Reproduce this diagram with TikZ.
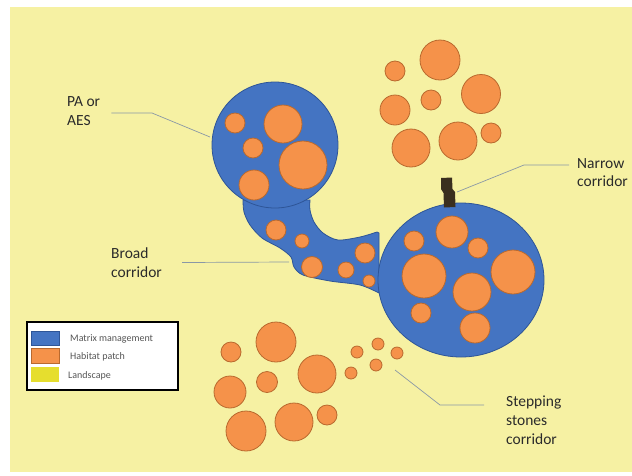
\documentclass[tikz,border=0pt]{standalone}
\usepackage{fontspec}
\setmainfont{Carlito}
\definecolor{bgyellow}{HTML}{F6F1A3}
\definecolor{matblue}{HTML}{4474C2}
\definecolor{matedge}{HTML}{2E5597}
\definecolor{patchor}{HTML}{F5924A}
\definecolor{patchedge}{HTML}{B9692E}
\definecolor{narrowc}{HTML}{3A2F1F}
\definecolor{leadc}{HTML}{8A98A6}
\definecolor{txtc}{HTML}{2B2B2B}
\definecolor{legtxt}{HTML}{555555}
\definecolor{swyellow}{HTML}{E6DE2E}
\begin{document}
\begin{tikzpicture}[x=1pt,y=-1pt,
  mat/.style={fill=matblue,draw=matedge,line width=0.8pt},
  hpatch/.style={fill=patchor,draw=patchedge,line width=0.8pt},
  lead/.style={draw=leadc,line width=0.7pt},
  lbl/.style={font=\fontsize{15.5}{18.8}\selectfont,text=txtc,align=left,inner sep=1pt,anchor=west},
  legl/.style={font=\fontsize{10}{12}\selectfont,text=legtxt,inner sep=0pt,anchor=west}]
\useasboundingbox (0,0) rectangle (632,475);
\fill[white] (0,0) rectangle (632,475);
\fill[bgyellow] (10,7) rectangle (632,472);

% broad corridor
\draw[mat] plot[smooth,tension=0.5] coordinates {(243,200) (244,212) (250,225) (262,238) (280,248) (291,257) (294,267) (303,275) (330,281) (360,285) (379,293)}
  -- (379,233)
  -- plot[smooth,tension=0.5] coordinates {(377,232) (360,237) (338,240) (323,233) (314,222) (310,210) (310,200)} -- cycle;

% protected areas
\draw[mat] (275,145) circle[radius=63pt];
\draw[mat] (461,280) ellipse[x radius=83pt,y radius=77pt];

% narrow corridor
\fill[narrowc] (441,178) -- (452,177.5) -- (452.5,189) -- (455,192) -- (455.5,207) -- (444,207.5) -- (443.5,193) -- (441,189) -- cycle;

% habitat patches
\foreach \x/\y/\r in {
  235/123/10, 283/124/19, 253/148/10, 303/165/24, 254/185/15,
  276/230/10, 302/241/7, 312/267/10.5, 346/270/8, 365/253/10, 369/281/6,
  452/232/16, 414/241/10, 478/248/10, 424/276/22, 513/272/22, 472/292/19, 421/313/10, 475/328/15,
  395/71/10, 440/60/20, 395/110/15, 431/100/10, 481/94/19.5, 411/148/19, 458/141/19, 491/133/10,
  231/352/10, 276/342/20, 230/392/16, 267/382/10.5, 317/374/19, 246/431/20, 294/422/19, 327/415/10,
  357/352/6, 378/344/6, 351/373/6, 376/365/6, 397/353/6}
  \draw[hpatch] (\x,\y) circle[radius=\r pt];

% labels
\node[lbl] (palbl) at (66,111) {PA or\\AES};
\node[lbl] (brlbl) at (110,262.5) {Broad\\corridor};
\node[lbl] (narlbl) at (576,172.5) {Narrow\\corridor};
\node[lbl] (stlbl) at (505,420) {Stepping\\stones\\corridor};

\coordinate (pa1) at (152,113);
\coordinate (pa2) at (210,137);
\coordinate (br1) at (289,262);
\coordinate (na1) at (524,165);
\coordinate (na2) at (457,192);
\coordinate (st1) at (440,405);
\coordinate (st2) at (395,370);

\draw[lead] ([xshift=10pt,yshift=-2pt]palbl.east) -- (pa1) -- (pa2);
\draw[lead] ([xshift=19pt]brlbl.east) -- (br1);
\draw[lead] ([xshift=-7pt,yshift=7.5pt]narlbl.west) -- (na1) -- (na2);
\draw[lead] ([xshift=-21pt,yshift=15pt]stlbl.west) -- (st1) -- (st2);

% legend
\node[draw=black,line width=1.5pt,fill=white,minimum width=151pt,minimum height=68pt,inner sep=0pt] (legend) at (102.5,356) {};
\draw[fill=matblue,draw=matedge,line width=0.6pt] (31,331) rectangle (59,345);
\draw[fill=patchor,draw=patchedge,line width=0.6pt] (31,348) rectangle (59,363);
\fill[swyellow] (31,367) rectangle (59,382);
\node[legl] (l1) at (70,339) {Matrix management};
\node[legl] (l2) at (70,357) {Habitat patch};
\node[legl] (l3) at (68,376) {Landscape};
\end{tikzpicture}
\end{document}
